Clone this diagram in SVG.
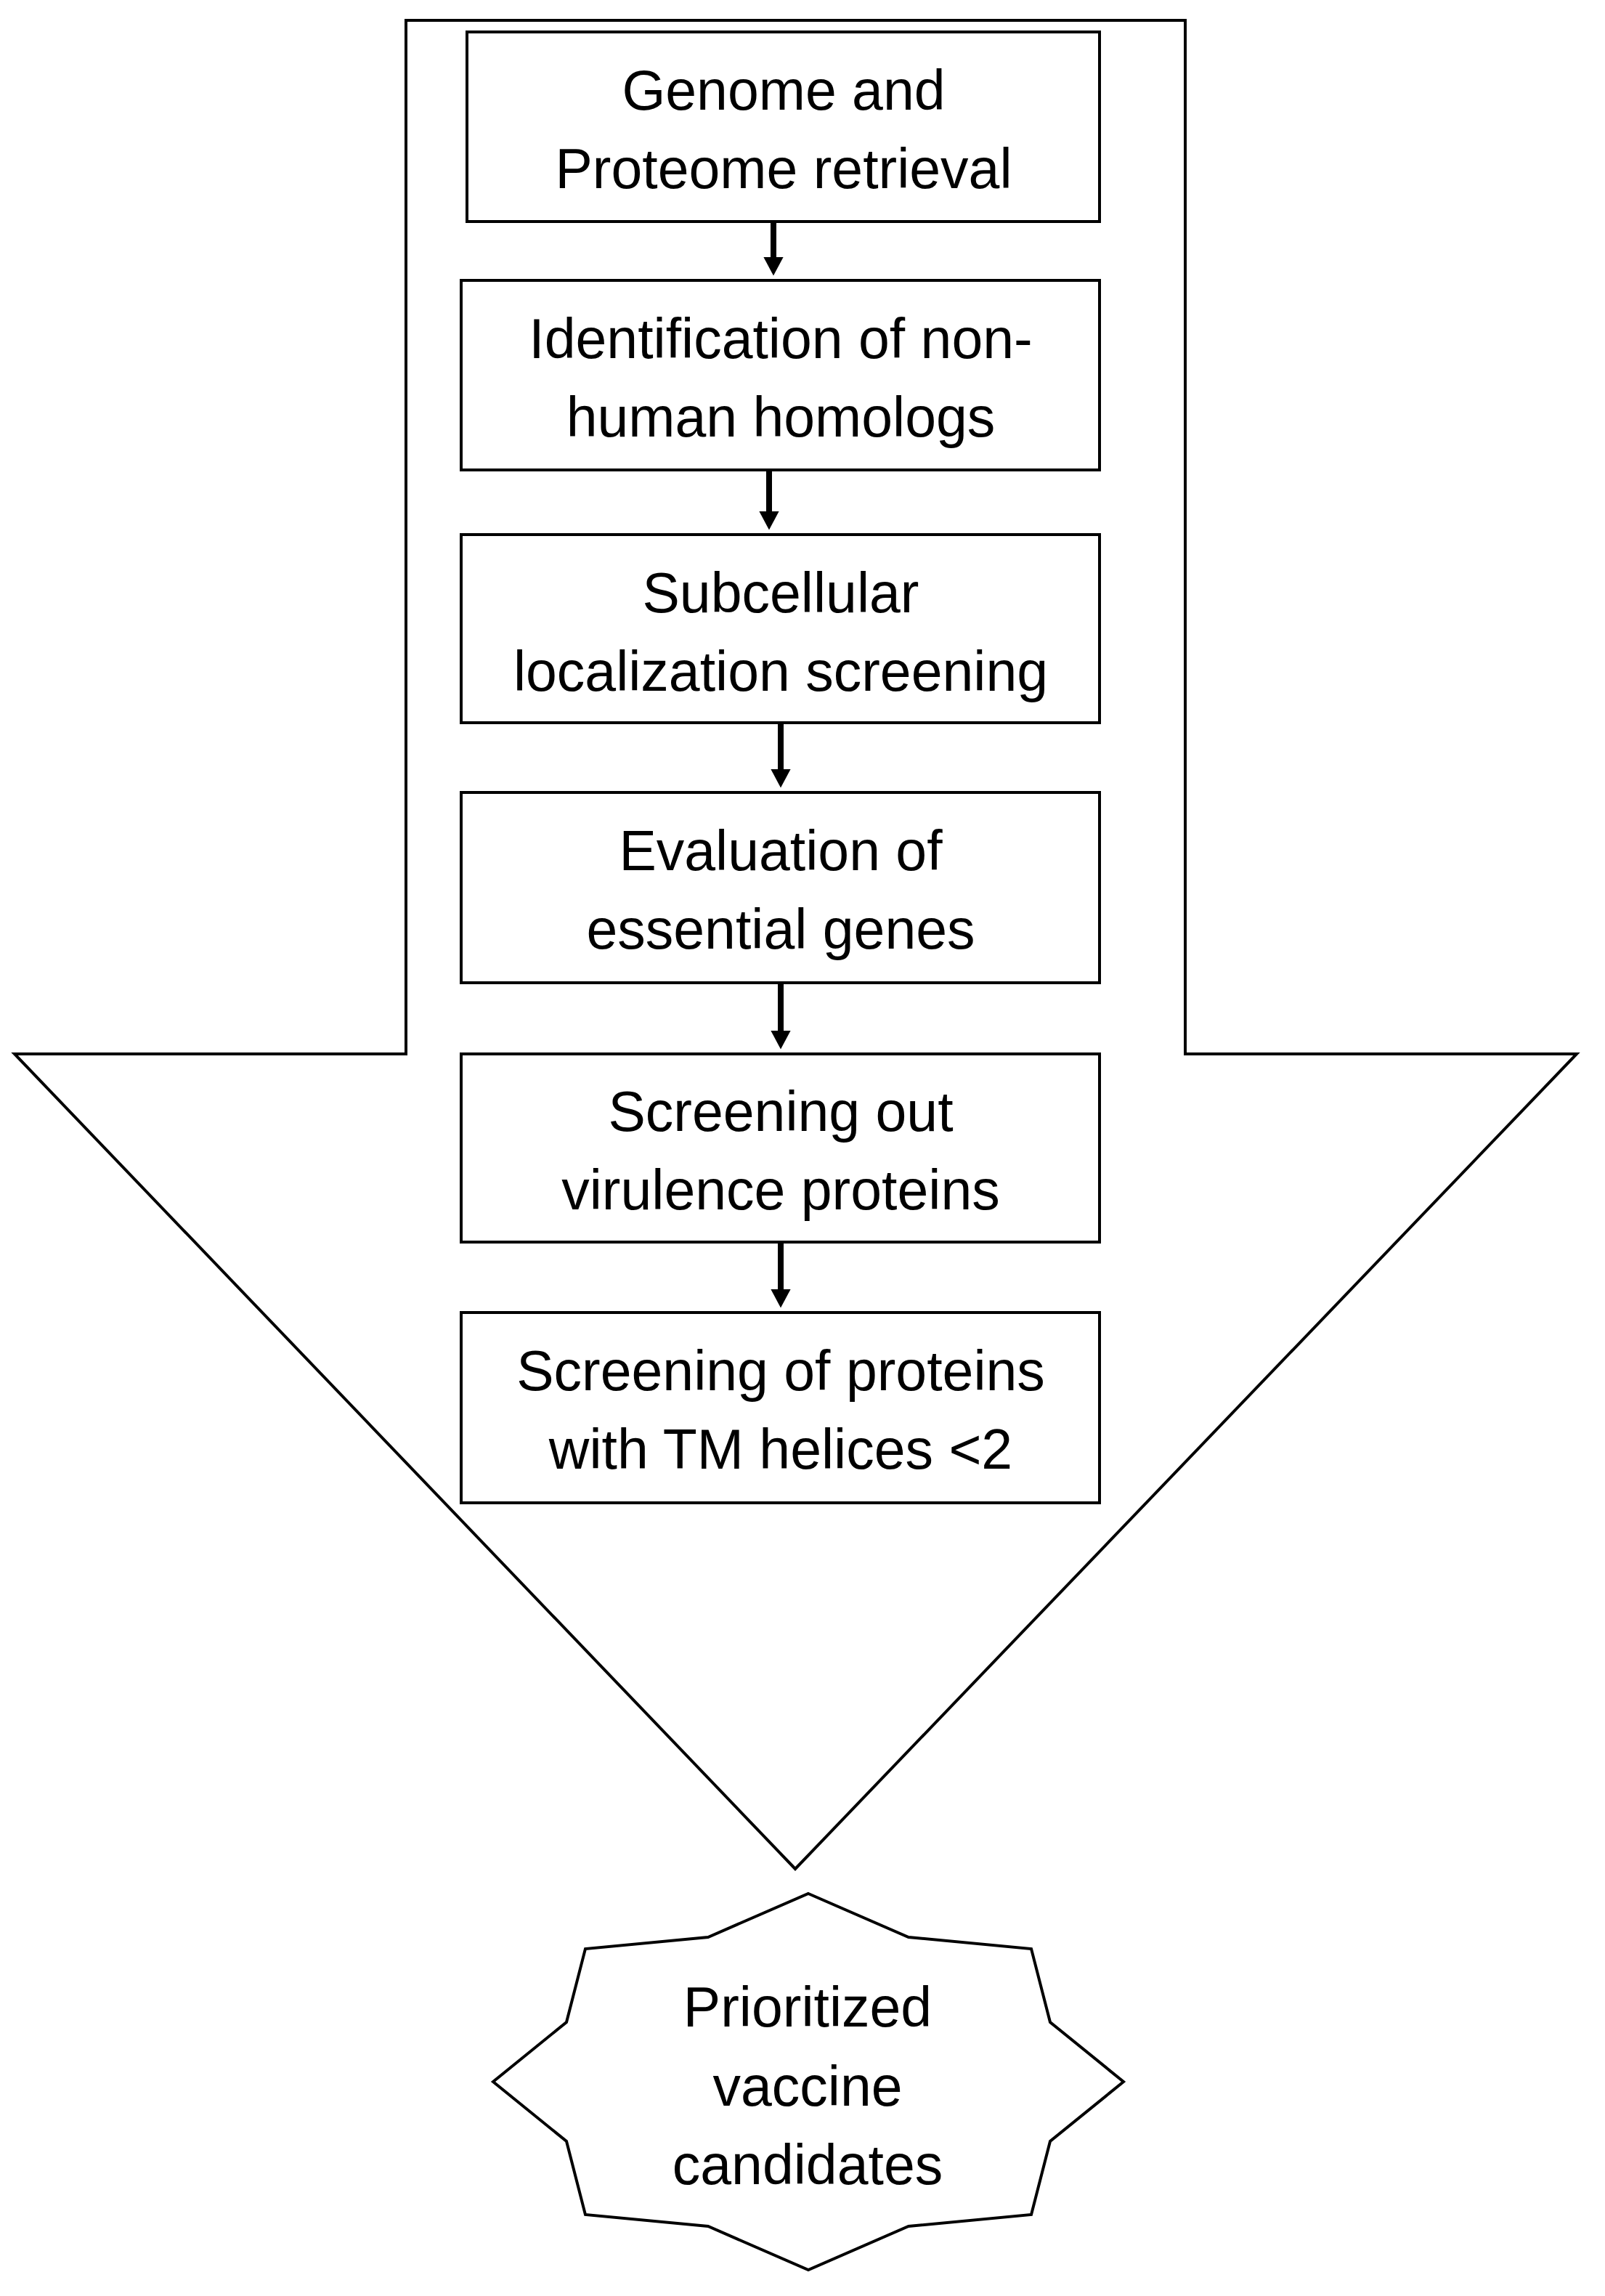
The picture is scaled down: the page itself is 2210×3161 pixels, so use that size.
<svg xmlns="http://www.w3.org/2000/svg" width="2210" height="3161" viewBox="0 0 2210 3161">
<style>
.s{fill:#fff;stroke:#000;stroke-width:4}
.t{font-family:"Liberation Sans",Arial,sans-serif;font-size:77px;text-anchor:middle;fill:#000}
.c{stroke:#000;stroke-width:8;fill:none}
</style>
<defs><marker id="a" markerWidth="4" markerHeight="5" refX="1" refY="2.5" orient="auto" markerUnits="strokeWidth"><path d="M0,0.8 L3.2,2.5 L0,4.2 Z" fill="#000"/></marker></defs>
<rect width="2210" height="3161" fill="#fff"/>
<g id="bigarrow"><polygon class="s" points="559,28 1632,28 1632,1451 2171,1451 1095,2573 20,1451 559,1451"/></g>
<g id="n1"><rect class="s" x="643" y="44" width="871" height="261"/><text class="t" x="1079" y="151">Genome and</text><text class="t" x="1079" y="259">Proteome retrieval</text></g>
<g id="n2"><rect class="s" x="635" y="386" width="879" height="261"/><text class="t" x="1075" y="493">Identification of non-</text><text class="t" x="1075" y="601">human homologs</text></g>
<g id="n3"><rect class="s" x="635" y="736" width="879" height="259"/><text class="t" x="1075" y="843">Subcellular</text><text class="t" x="1075" y="951">localization screening</text></g>
<g id="n4"><rect class="s" x="635" y="1091" width="879" height="262"/><text class="t" x="1075" y="1198">Evaluation of</text><text class="t" x="1075" y="1306">essential genes</text></g>
<g id="n5"><rect class="s" x="635" y="1451" width="879" height="259"/><text class="t" x="1075" y="1557">Screening out</text><text class="t" x="1075" y="1665">virulence proteins</text></g>
<g id="n6"><rect class="s" x="635" y="1807" width="879" height="262"/><text class="t" x="1075" y="1914">Screening of proteins</text><text class="t" x="1075" y="2022">with TM helices &lt;2</text></g>
<g id="n7"><polygon class="s" points="1113,2607 1251,2667 1420,2683 1446,2784 1547,2866 1446,2948 1420,3049 1251,3065 1113,3125 975,3065 806,3049 780,2948 679,2866 780,2784 806,2683 975,2667"/><text class="t" x="1112" y="2790">Prioritized</text><text class="t" x="1112" y="2899">vaccine</text><text class="t" x="1112" y="3007">candidates</text></g>
<g id="connectors">
<line class="c" x1="1065" y1="305" x2="1065" y2="362" marker-end="url(#a)"/>
<line class="c" x1="1059" y1="647" x2="1059" y2="712" marker-end="url(#a)"/>
<line class="c" x1="1075" y1="995" x2="1075" y2="1067" marker-end="url(#a)"/>
<line class="c" x1="1075" y1="1353" x2="1075" y2="1427" marker-end="url(#a)"/>
<line class="c" x1="1075" y1="1710" x2="1075" y2="1783" marker-end="url(#a)"/>
</g>
</svg>
